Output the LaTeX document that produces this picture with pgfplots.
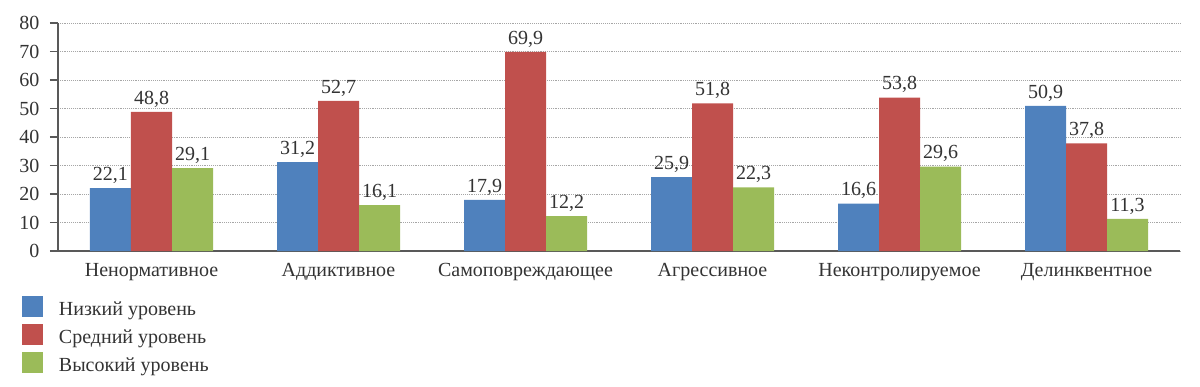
\documentclass[border=0pt]{standalone}
\usepackage{fontspec}
\setmainfont{Liberation Serif}
\usepackage{pgfplots}
\pgfplotsset{compat=1.18}
\definecolor{cblue}{HTML}{4F81BD}
\definecolor{cred}{HTML}{C0504D}
\definecolor{cgreen}{HTML}{9BBB59}
\definecolor{txt}{HTML}{333333}
\begin{document}
\begin{tikzpicture}
\path[use as bounding box] (0,0) rectangle (900pt,289.5pt);
\begin{axis}[
  at={(43.5pt,101.25pt)}, anchor=south west,
  scale only axis, width=841.5pt, height=171pt,
  ybar=0pt, bar width=30.75pt,
  xmin=-0.5, xmax=5.5, ymin=0, ymax=80,
  xtick={0,1,2,3,4,5},
  xticklabels={Ненормативное,Аддиктивное,Самоповреждающее,Агрессивное,Неконтролируемое,Делинквентное},
  ytick={0,10,...,80},
  axis lines*=left,
  axis line style={draw=black!65, line width=0.8pt},
  ymajorgrids, grid style={densely dotted, black!35, line width=0.5pt},
  major x tick style={draw=none},
  tick align=outside, major tick length=6pt,
  ytick style={draw=black!65, line width=0.8pt},
  tick label style={font=\fontsize{15}{18}\selectfont, text=txt},
  yticklabel style={xshift=-4.5pt},
  /pgf/number format/assume math mode=true,
  nodes near coords,
  every node near coord/.append style={font=\fontsize{15}{18}\selectfont, text=txt},
  nodes near coords style={/pgf/number format/.cd, use comma, fixed, fixed zerofill, precision=1},
  legend style={at={(-0.0321,-0.198)}, anchor=north west, draw=none, fill=none, inner sep=0pt,
    font=\fontsize{15}{18}\selectfont, text=txt, row sep=3.1pt,
    nodes={inner sep=0pt, text height=11pt, text depth=3.5pt}},
  legend cell align=left,
  /tikz/every odd column/.append style={column sep=12pt},
  legend image code/.code={\fill[#1] (0pt,-5pt) rectangle (15.5pt,10.5pt);},
]
\addplot[fill=cblue, draw=none] coordinates {(0,22.1) (1,31.2) (2,17.9) (3,25.9) (4,16.6) (5,50.9)};
\addplot[fill=cred, draw=none] coordinates {(0,48.8) (1,52.7) (2,69.9) (3,51.8) (4,53.8) (5,37.8)};
\addplot[fill=cgreen, draw=none] coordinates {(0,29.1) (1,16.1) (2,12.2) (3,22.3) (4,29.6) (5,11.3)};
\legend{Низкий уровень, Средний уровень, Высокий уровень}
\end{axis}
\end{tikzpicture}
\end{document}
